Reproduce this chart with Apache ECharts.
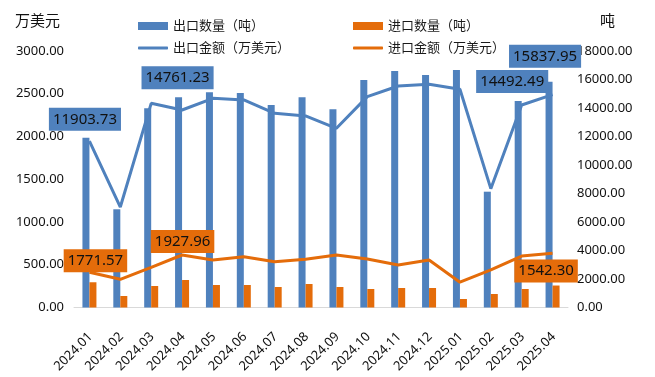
<!DOCTYPE html>
<html>
<head>
<meta charset="utf-8">
<script src="https://cdn.jsdelivr.net/npm/echarts@6/dist/echarts.min.js"></script>
<style>
html,body{margin:0;padding:0;background:#fff;}
#chart{width:655px;height:377px;}
</style>
</head>
<body>
<div id="chart"></div>
<script>
const categories = ['2024.01','2024.02','2024.03','2024.04','2024.05','2024.06','2024.07','2024.08','2024.09','2024.10','2024.11','2024.12','2025.01','2025.02','2025.03','2025.04'];
const exportQty = [11903.73, 6892, 13980, 14761.23, 15100, 15050, 14211, 14750, 13909, 15966, 16598, 16317, 16668, 8127, 14492.49, 15837.95];
const importQty = [1771.57, 807, 1509, 1927.96, 1579, 1579, 1439, 1649, 1439, 1298, 1369, 1369, 597, 947, 1298, 1542.30];
const exportVal = [1947, 1175, 2388, 2310, 2447, 2427, 2271, 2240, 2096, 2466, 2591, 2610, 2552, 1390, 2368, 2490];
const importVal = [412, 330, 470, 614, 556, 594, 536, 564, 614, 567, 497, 556, 296, 439, 602, 634];
const exportLabeled = [0, 3, 14, 15];
const importLabeled = [0, 3, 15];
const seriesNames = ['出口数量（吨）', '进口数量（吨）', '出口金额（万美元）', '进口金额（万美元）'];

const BLUE = '#4F81BD', ORANGE = '#E46C0A';
const FONT = 'Noto Sans, Noto Sans CJK SC, sans-serif';

// label placement tweaks (style, not data)
const expLabelPos = {0: [-1, 7], 3: [-1, 8], 14: [-6, 8], 15: [-4, 14]};
const impLabelPos = {0: [2.5, 10], 3: [-3, 27], 15: [-10, 3]};

function labelItems(idxs, values, pos, barShift, bg) {
  return idxs.map(i => ({
    value: [i, values[i]],
    label: {
      show: true, position: 'top', distance: pos[i][1],
      offset: [barShift + pos[i][0], 0],
      formatter: p => values[i].toFixed(2),
      backgroundColor: bg, color: '#111', fontSize: 15, fontFamily: FONT,
      padding: [3, 4, 3, 4], lineHeight: 17, opacity: 1
    }
  }));
}

const chart = echarts.init(document.getElementById('chart'));
const legendBase = {
  itemWidth: 30, itemHeight: 8, itemGap: 10,
  textStyle: {fontSize: 13, color: '#1a1a1a', fontFamily: FONT, lineHeight: 14},
  selectedMode: false
};
chart.setOption({
  animation: false,
  textStyle: {fontFamily: FONT},
  legend: [
    Object.assign({}, legendBase, {data: [{name: seriesNames[0], icon: 'rect'}], left: 133, top: 14}),
    Object.assign({}, legendBase, {data: [{name: seriesNames[1], icon: 'rect'}], left: 348, top: 14}),
    Object.assign({}, legendBase, {data: [{name: seriesNames[2], icon: 'roundRect'}], left: 133, top: 36, itemHeight: 3}),
    Object.assign({}, legendBase, {data: [{name: seriesNames[3], icon: 'roundRect'}], left: 348, top: 36, itemHeight: 3})
  ],
  grid: {left: 74, right: 87, top: 51, bottom: 69.5, containLabel: false},
  xAxis: {
    type: 'category', data: categories,
    axisLine: {lineStyle: {color: '#d9d9d9', width: 1}},
    axisTick: {show: false},
    axisLabel: {rotate: 45, interval: 0, fontSize: 13, color: '#111', margin: 19, verticalAlign: 'top',
                padding: [0, 5, 0, 0], fontFamily: FONT}
  },
  yAxis: [
    {
      type: 'value', min: 0, max: 3000, interval: 500,
      name: '万美元', nameLocation: 'end', nameGap: 22,
      nameTextStyle: {fontSize: 15, color: '#111', align: 'right', padding: [0, 14, 0, 0], fontFamily: FONT},
      axisLine: {show: false}, axisTick: {show: false}, splitLine: {show: false},
      axisLabel: {fontSize: 13, color: '#111', margin: 10, formatter: v => v.toFixed(2), fontFamily: FONT}
    },
    {
      type: 'value', min: 0, max: 18000, interval: 2000,
      name: '吨', nameLocation: 'end', nameGap: 22,
      nameTextStyle: {fontSize: 15, color: '#111', align: 'left', padding: [0, 0, 0, 32], fontFamily: FONT},
      axisLine: {show: false}, axisTick: {show: false}, splitLine: {show: false},
      axisLabel: {fontSize: 13, color: '#111', margin: 9, formatter: v => v.toFixed(2), fontFamily: FONT}
    }
  ],
  series: [
    {name: seriesNames[0], type: 'bar', yAxisIndex: 1, data: exportQty, barWidth: 7, barGap: '0%',
     itemStyle: {color: BLUE}, z: 2},
    {name: seriesNames[1], type: 'bar', yAxisIndex: 1, data: importQty, barWidth: 7, barGap: '0%',
     itemStyle: {color: ORANGE}, z: 2},
    {name: seriesNames[2], type: 'line', yAxisIndex: 0, data: exportVal, symbol: 'none', showSymbol: false,
     lineStyle: {color: BLUE, width: 3}, itemStyle: {color: BLUE}, z: 3},
    {name: seriesNames[3], type: 'line', yAxisIndex: 0, data: importVal, symbol: 'none', showSymbol: false,
     lineStyle: {color: ORANGE, width: 3}, itemStyle: {color: ORANGE}, z: 3},
    {name: 'expLabels', type: 'scatter', yAxisIndex: 1, symbolSize: 0, z: 10, silent: true,
     itemStyle: {opacity: 1, color: BLUE},
     data: labelItems(exportLabeled, exportQty, expLabelPos, -3.5, BLUE)},
    {name: 'impLabels', type: 'scatter', yAxisIndex: 1, symbolSize: 0, z: 10, silent: true,
     itemStyle: {opacity: 1, color: ORANGE},
     data: labelItems(importLabeled, importQty, impLabelPos, 3.5, ORANGE)}
  ]
});
</script>
</body>
</html>
